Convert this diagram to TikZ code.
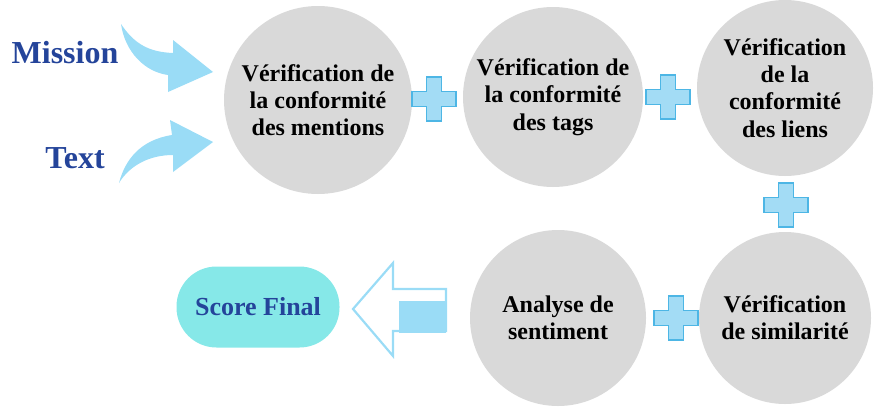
\documentclass[tikz,border=0pt]{standalone}
\usepackage{fontspec}
\setmainfont{Liberation Serif}
\usepackage{tikz}
\usetikzlibrary{positioning}

\definecolor{disc}{HTML}{D9D9D9}
\definecolor{plusfill}{HTML}{A3DCF5}
\definecolor{plusline}{HTML}{4DB6E5}
\definecolor{flow}{HTML}{9ADCF6}
\definecolor{scorefill}{HTML}{86E8E8}
\definecolor{inkblue}{HTML}{24449A}

\tikzset{
    stage/.style={circle, fill=disc, align=center, inner sep=0pt,
        font=\fontsize{12}{13.6}\selectfont\bfseries},
    plussign/.pic={
        \filldraw[fill=plusfill, draw=plusline, line width=0.6pt]
            (-7.5,-22) -- (7.5,-22) -- (7.5,-7.5) -- (22,-7.5) -- (22,7.5)
            -- (7.5,7.5) -- (7.5,22) -- (-7.5,22) -- (-7.5,7.5) -- (-22,7.5)
            -- (-22,-7.5) -- (-7.5,-7.5) -- cycle;
    },
    inputlabel/.style={text=inkblue, font=\fontsize{16}{18}\selectfont\bfseries}
}

\begin{document}
\begin{tikzpicture}[x=0.5pt, y=-0.5pt]
        \useasboundingbox (0,0) rectangle (887,412);

        % the five checks
        \node[stage, minimum size=94pt] (mentions) at (318,100) {Vérification de\\la conformité\\des mentions};
        \node[stage, minimum size=90pt] (tags) at (553,97) {Vérification de\\la conformité\\des tags};
        \node[stage, minimum size=88pt] (liens) at (785,88) {Vérification\\de la\\conformité\\des liens};
        \node[stage, minimum size=86pt] (simil) at (785,318) {Vérification\\de similarité};
        \node[stage, minimum size=88pt] (senti) at (558,318) {Analyse de\\sentiment};

        \pic at (434,99) {plussign};
        \pic at (668,97) {plussign};
        \pic at (786,205) {plussign};
        \pic at (676,318) {plussign};

        % inputs
        \node[inputlabel] (mission) at (65,53) {Mission};
        \node[inputlabel] (text) at (75,158) {Text};
        \fill[flow] (121,24) .. controls (135,45) and (150,52) .. (173,53)
            -- (173,40) -- (213,72) -- (168,92) -- (168,75)
            .. controls (145,72) and (125,52) .. (121,24);
        \fill[flow] (119,183) .. controls (125,160) and (140,140) .. (172,135)
            -- (170,120) -- (213,142) -- (173,172) -- (173,155)
            .. controls (150,155) and (130,165) .. (119,183);

        % output
        \draw[flow, line width=1.1pt, line join=miter]
            (353,309) -- (393,263) -- (393,289) -- (446,289) -- (446,331)
            -- (393,331) -- (393,356) -- cycle;
        \fill[flow] (399,301) rectangle (446,333);
        \node[fill=scorefill, rounded corners=20pt, minimum width=81.5pt,
            minimum height=40.5pt, text=inkblue,
            font=\fontsize{13}{15}\selectfont\bfseries] (score) at (258,307) {Score Final};
    \end{tikzpicture}
\end{document}
